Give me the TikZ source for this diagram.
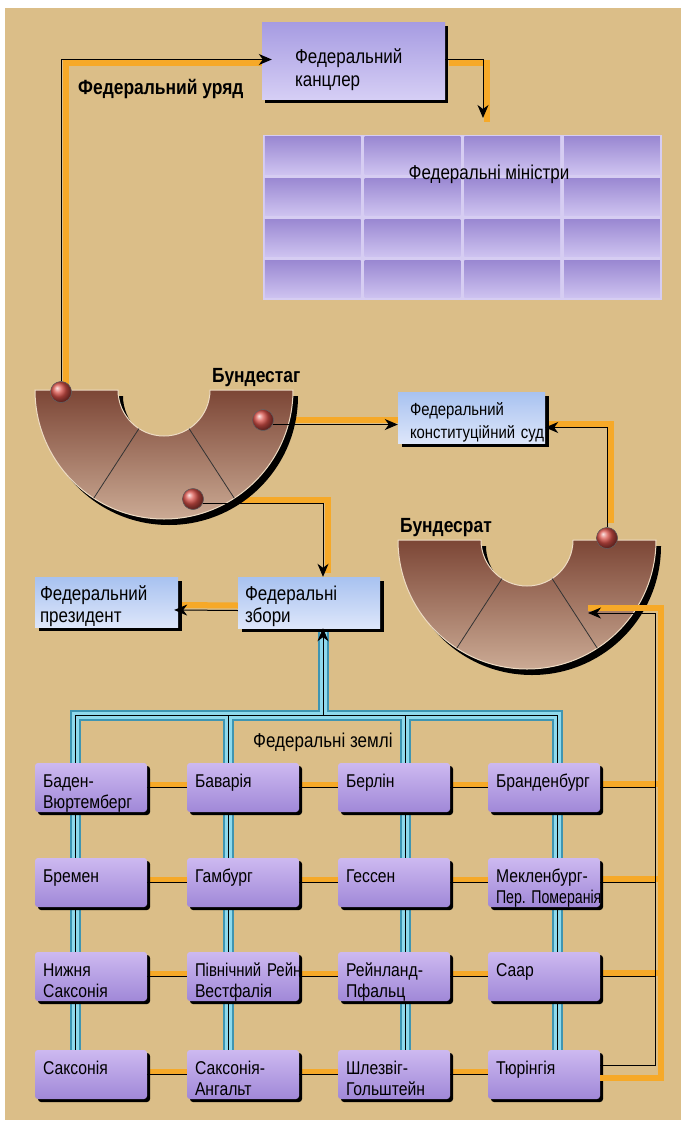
\documentclass[tikz,border=0pt]{standalone}
\usepackage{fontspec}
\usepackage{graphicx}
\setmainfont{Liberation Sans}[FakeStretch=0.85]
\usetikzlibrary{arrows.meta,shadows}

\definecolor{paper}{HTML}{DBBE88}
\definecolor{glowc}{HTML}{F6A928}
\definecolor{landtop}{HTML}{CDB9F0}
\definecolor{landbot}{HTML}{A088D8}
\definecolor{chieftop}{HTML}{A79CE2}
\definecolor{chiefbot}{HTML}{D6CFF5}
\definecolor{bluetop}{HTML}{A8C2F0}
\definecolor{bluebot}{HTML}{DDE6FA}
\definecolor{celltop}{HTML}{9A88D2}
\definecolor{cellbot}{HTML}{CEC3F0}
\definecolor{cellgap}{HTML}{D6CDF2}
\definecolor{wirecyan}{HTML}{8FD9EC}
\definecolor{wireteal}{HTML}{3E95B2}
\definecolor{ringtop}{HTML}{7C4636}
\definecolor{ringbot}{HTML}{CBAA94}
\definecolor{ringedge}{HTML}{EEDCC4}
\definecolor{ballred}{HTML}{D85048}

\pgfdeclarelayer{paperlayer}
\pgfdeclarelayer{glowlayer}
\pgfsetlayers{paperlayer,glowlayer,main}

\begin{document}
\begin{tikzpicture}[x=1pt,y=-1pt,
	wire/.style={draw=black,line width=1pt},
	arr/.style={-{Stealth[length=13pt,width=11pt,inset=4pt]}},
	halo/.style 2 args={draw=glowc,line width=6pt,transform canvas={xshift=#1,yshift=#2}},
	boxshadow/.style={drop shadow={shadow xshift=#1,shadow yshift=-#1,fill=black,opacity=1}},
	chief/.style={rectangle,top color=chieftop,bottom color=chiefbot,boxshadow=3pt,
		inner ysep=0pt,align=left,font=\fontsize{20}{23}\selectfont},
	office/.style={rectangle,top color=bluetop,bottom color=bluebot,boxshadow=4pt,
		inner ysep=0pt,align=left,font=\fontsize{20}{22}\selectfont},
	land/.style={rectangle,rounded corners=3pt,top color=landtop,bottom color=landbot,
		boxshadow=3pt,inner xsep=8pt,inner ysep=0pt,text width=96pt,align=left,
		text height=24pt,text depth=25pt,font=\fontsize{18.5}{21}\selectfont},
	chamber/.style={inner sep=0pt,anchor=base west,font=\bfseries\fontsize{20.5}{24}\selectfont},
	landcap/.style={inner sep=0pt,font=\fontsize{20}{24}\selectfont},
	seat/.style={circle,minimum size=21pt,inner sep=0pt,shading=ball,ball color=ballred,
		draw=black!60,line width=0.4pt}]
	\useasboundingbox (0,0) rectangle (681,1123);
	\begin{pgfonlayer}{paperlayer}
		\fill[white] (0,0) rectangle (681,1123);
		\fill[paper] (5,8) rectangle (681,1120);
	\end{pgfonlayer}

	% Bundestag and Bundesrat
	\foreach \cx/\cy in {164/390,527/540}{
		\begin{scope}[shift={(\cx,\cy)}]
			\begin{scope}[xshift=5pt,yshift=-6pt]
				\fill[black] (180:129pt) arc[start angle=180,end angle=360,radius=129pt]
					-- (0:46pt) arc[start angle=0,end angle=-180,radius=46pt] -- cycle;
			\end{scope}
			\draw[ringedge,line width=1pt,top color=ringtop,bottom color=ringbot]
				(180:129pt) arc[start angle=180,end angle=360,radius=129pt]
				-- (0:46pt) arc[start angle=0,end angle=-180,radius=46pt] -- cycle;
			\draw[black!80,line width=0.8pt] (-57:46pt) -- (-57:129pt) (-123:46pt) -- (-123:129pt);
		\end{scope}
	}

	\draw (353.5,61.5) node [chief,minimum width=183pt,inner xsep=33pt,text width=117pt,
		text height=41pt,text depth=36pt] (kanzler) {Федеральний\\канцлер};
	\draw (462.5,217.5) node [rectangle,fill=cellgap,minimum width=399pt,minimum height=165pt,
		inner sep=0pt] (ministri) {};
	\foreach \i in {0,...,3}
		\foreach \j in {0,...,3}
			\shade[top color=celltop,bottom color=cellbot]
				([xshift=\i*99.75pt+2pt,yshift=-\j*41.25pt-2pt]ministri.north west) rectangle ++(95.75,37.25);
	\draw (489,180) node [landcap,anchor=base] (mtitle) {Федеральні міністри};

	\draw (471.5,417.5) node [office,minimum width=147pt,inner xsep=12pt,text width=123pt,
		text height=23pt,text depth=28pt,font=\fontsize{17.5}{23}\selectfont] (court) {Федеральний\\конституційний~суд};
	\draw (106.5,602) node [office,minimum width=143pt,inner xsep=5pt,text width=133pt,
		text height=23pt,text depth=27pt] (president) {Федеральний\\президент};
	\draw (309,602.5) node [office,minimum width=142pt,inner xsep=7pt,text width=128pt,
		text height=23pt,text depth=28pt] (zbory) {Федеральні\\збори};

	\draw (91,787.5) node [land] (l11) {Баден-\\Вюртемберг};
	\draw (243,787.5) node [land] (l12) {Баварія};
	\draw (394,787.5) node [land] (l13) {Берлін};
	\draw (544,787.5) node [land] (l14) {Бранденбург};
	\draw (91,882.5) node [land] (l21) {Бремен};
	\draw (243,882.5) node [land] (l22) {Гамбург};
	\draw (394,882.5) node [land] (l23) {Гессен};
	\draw (544,882.5) node [land] (l24) {Мекленбург-\\\scalebox{0.9}[1]{Пер.~Померанія}};
	\draw (91,976.5) node [land] (l31) {Нижня\\Саксонія};
	\draw (243,976.5) node [land] (l32) {\scalebox{0.95}[1]{Північний~Рейн}\\Вестфалія};
	\draw (394,976.5) node [land] (l33) {Рейнланд-\\Пфальц};
	\draw (544,976.5) node [land] (l34) {Саар};
	\draw (91,1074.5) node [land] (l41) {Саксонія};
	\draw (243,1074.5) node [land] (l42) {Саксонія-\\Ангальт};
	\draw (394,1074.5) node [land] (l43) {Шлезвіг-\\Гольштейн};
	\draw (544,1074.5) node [land] (l44) {Тюрінгія};

	\coordinate (mdrop) at (483,118);
	\coordinate (hub) at (323,715);
	\coordinate (v1) at (75,715);
	\coordinate (v2) at (228,715);
	\coordinate (v3) at (405,715);
	\coordinate (v4) at (557,715);
	\coordinate (trunk) at (655,613);
	\coordinate (brin) at (588,613);

	\node[seat] (bt1) at (61,392) {};
	\node[seat] (bt2) at (263,420) {};
	\node[seat] (bt3) at (193,499) {};
	\node[seat] (br1) at (607,538) {};

	\begin{pgfonlayer}{glowlayer}
		\draw[halo={5pt}{-4pt}] (bt1.north) |- ([yshift=2pt]kanzler.west);
		\draw[halo={4pt}{-4pt}] ([yshift=2pt]kanzler.east) -| (mdrop);
		\draw[halo={0pt}{5pt}] (bt2.-25) -- (bt2.-25 -| court.west);
		\draw[halo={4pt}{4pt}] (br1.north) |- ([yshift=-10pt]court.east);
		\draw[halo={5pt}{4pt}] (bt3.-25) -| ([xshift=14pt]zbory.north);
		\draw[halo={0pt}{5pt}] ([yshift=-8pt]zbory.west) -- ([yshift=-8pt]president.east);
		\foreach \r in {1,...,4}
			\draw[halo={0pt}{3pt}] (l\r1) -- (l\r4);
		\foreach \r in {1,...,3}
			\draw[halo={0pt}{4pt}] (l\r4) -- ([xshift=9pt]l\r4 -| trunk);
		\foreach \w/\c in {11pt/wireteal,7pt/wirecyan,0.9pt/black}
			\draw[line width=\w,draw=\c,line cap=rect] (v1) -- (v4)
				(v1) -- (v1 |- l41.north) (v2) -- (v2 |- l42.north)
				(v3) -- (v3 |- l43.north) (v4) -- (v4 |- l44.north)
				(hub) -- (hub |- zbory.south);
	\end{pgfonlayer}
	\draw[halo={0pt}{0pt}] ([yshift=5pt]brin) -| ([xshift=6pt,yshift=-3pt]trunk |- l44.east)
		-- ([yshift=-3pt]l44.east);

	\draw[wire,arr,shorten >=-10pt] (bt1.north) |- ([yshift=2pt]kanzler.west);
	\draw[wire,arr] ([yshift=2pt]kanzler.east) -| (mdrop);
	\draw[wire,arr] (bt2.-25) -- (bt2.-25 -| court.west);
	\draw[wire,arr] (br1.north) |- ([yshift=-10pt]court.east);
	\draw[wire,arr] (bt3.-25) -| ([xshift=14pt]zbory.north);
	\draw[wire,arr,shorten >=-4pt] ([yshift=-8pt]zbory.west) -- ([yshift=-8pt]president.east);
	\draw[wire,arr] (hub) -- (hub |- zbory.south);
	\draw[wire,arr] ([yshift=9pt]l44.east) -| (trunk) -- (brin);
	\draw[wire] (l14.east) -- (l14.east -| trunk)
		(l24.east) -- (l24.east -| trunk)
		(l34.east) -- (l34.east -| trunk);
	\path[wire]
		(l11) edge (l12)
		(l12) edge (l13)
		(l13) edge (l14)
		(l21) edge (l22)
		(l22) edge (l23)
		(l23) edge (l24)
		(l31) edge (l32)
		(l32) edge (l33)
		(l33) edge (l34)
		(l41) edge (l42)
		(l42) edge (l43)
		(l43) edge (l44);

	\node[seat] at (bt1) {};
	\node[seat] at (bt2) {};
	\node[seat] at (bt3) {};
	\node[seat] at (br1) {};

	\draw (78,95) node [chamber] (uryad) {Федеральний уряд};
	\draw (212,382) node [chamber] (tag) {Бундестаг};
	\draw (400,532) node [chamber] (rat) {Бундесрат};
	\draw (253,747) node [landcap,anchor=base west] (zemli) {Федеральні землі};
\end{tikzpicture}
\end{document}
